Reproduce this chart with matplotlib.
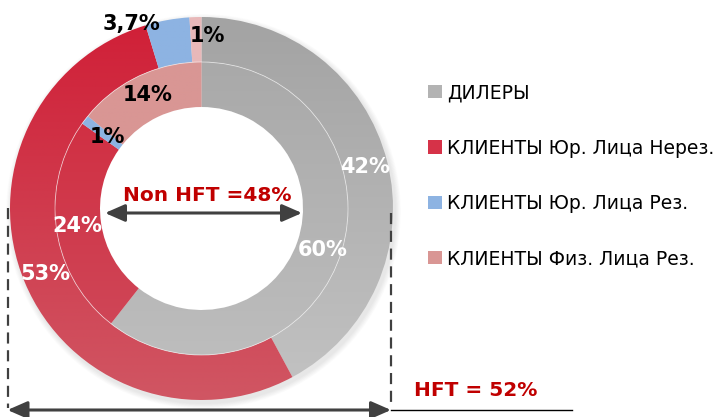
import numpy as np
import matplotlib.pyplot as plt
from matplotlib.colors import to_rgb
from matplotlib.patches import Patch

categories = ['ДИЛЕРЫ', 'КЛИЕНТЫ Юр. Лица Нерез.', 'КЛИЕНТЫ Юр. Лица Рез.', 'КЛИЕНТЫ Физ. Лица Рез.']
outer_vals = [42, 53, 3.7, 1]
inner_vals = [60, 24, 1, 14]
outer_labels = ['42%', '53%', '3,7%', '1%']
inner_labels = ['60%', '24%', '1%', '14%']
nonhft_text = 'Non HFT =48%'
hft_text = 'HFT = 52%'

# colours: (top, bottom) of the vertical gradient
outer_cols = [('#a3a3a3', '#c3c3c3'), ('#d01f37', '#d05663'), ('#8db3e2', '#8db3e2'), ('#e8b8b9', '#e8b8b9')]
inner_cols = [('#a6a6a6', '#c0c0c0'), ('#d12439', '#cf4e5e'), ('#8db3e2', '#8db3e2'), ('#d99694', '#d99694')]
legend_cols = ['#b3b3b3', '#d63248', '#8db3e2', '#d99694']
label_dark = ['white', 'white', 'black', 'black']
inner_dark = ['white', 'white', 'black', 'black']

W, H = 714, 417
cx, cy = 201.5, 208.5
r_out, r_mid, r_in = 191.5, 146.5, 101.5

fig = plt.figure(figsize=(W / 100, H / 100), dpi=100)
ax = fig.add_axes([0, 0, 1, 1])
# pixel coordinates, y grows downwards -> start at -90 and go counterclock in data space
ax.set_xlim(0, W)
ax.set_ylim(H, 0)
ax.axis('off')

def ring(vals, radius, width, cols):
    wedges, _ = ax.pie(vals, radius=radius, center=(cx, cy), startangle=-90, counterclock=True,
                       wedgeprops=dict(width=width, edgecolor='none', facecolor='none'),
                       frame=True)
    for w, (c0, c1) in zip(wedges, cols):
        grad = np.linspace(to_rgb(c0), to_rgb(c1), 256).reshape(256, 1, 3)
        im = ax.imshow(grad, extent=(cx - r_out, cx + r_out, cy + r_out, cy - r_out),
                       origin='upper', aspect='auto', interpolation='bilinear', zorder=1)
        im.set_clip_path(w)
    return wedges

# soft shadow round the outer ring
for k in range(8):
    sh = plt.Circle((cx + 2, cy + 3), r_out + 1 + k * 0.7, color='#000000', alpha=0.012, lw=0, zorder=0)
    ax.add_patch(sh)
ax.add_patch(plt.Circle((cx, cy), r_in, color='white', zorder=0.5))

w_out = ring(outer_vals, r_out, r_out - r_mid, outer_cols)
w_in = ring(inner_vals, r_mid, r_mid - r_in, inner_cols)
ax.add_patch(plt.Circle((cx, cy), r_mid, fill=False, ec='white', lw=0.6, alpha=0.6, zorder=2))

def mid_point(w, r):
    a = np.deg2rad((w.theta1 + w.theta2) / 2)
    return cx + r * np.cos(a), cy + r * np.sin(a)

lab_font = dict(fontsize=15, fontweight='bold', ha='center', va='center', zorder=5)
for i, w in enumerate(w_out[:2]):
    x, y = mid_point(w, 169)
    ax.text(x, y, outer_labels[i], color=label_dark[i], **lab_font)
# small outer slices are labelled above the ring
ax.text(131, 24, outer_labels[2], color='black', **lab_font)
ax.text(207, 36, outer_labels[3], color='black', **lab_font)
for i, w in enumerate(w_in):
    x, y = mid_point(w, [128, 125, 118, 126][i])
    ax.text(x, y, inner_labels[i], color=inner_dark[i], **lab_font)

# Non HFT arrow across the hole
ax.text(207, 195, nonhft_text, color='#c00000', fontsize=14.5, fontweight='bold',
        ha='center', va='center', zorder=5)
arrow = dict(arrowstyle='<|-|>,head_length=0.8,head_width=0.35', color='#404040', lw=2.2,
             mutation_scale=15, shrinkA=0, shrinkB=0)
ax.annotate('', xy=(302, 213), xytext=(105, 213), arrowprops=arrow, zorder=5)

# HFT bracket below the donut
ax.plot([7.5, 7.5], [208, 408], ls=(0, (5, 3)), color='#404040', lw=1.6, zorder=4)
ax.plot([391, 391], [213, 404], ls=(0, (5, 3)), color='#404040', lw=1.6, zorder=4)
ax.annotate('', xy=(391, 410), xytext=(7.5, 410), arrowprops=arrow, zorder=5)
ax.plot([391, 572], [410, 410], color='black', lw=1, zorder=4)
ax.text(476, 390, hft_text, color='#c00000', fontsize=14.5, fontweight='bold',
        ha='center', va='center', zorder=5)

handles = [Patch(facecolor=c, edgecolor='none') for c in legend_cols]
ax.legend(handles, categories, loc='upper left', bbox_to_anchor=(419, 74),
          bbox_transform=ax.transData, frameon=False, fontsize=13.5, borderpad=0,
          handlelength=0.7, handleheight=0.7, handletextpad=0.28, labelspacing=1.93)

ax.set_xlim(0, W)
ax.set_ylim(H, 0)
fig.savefig('out.png', dpi=100)
